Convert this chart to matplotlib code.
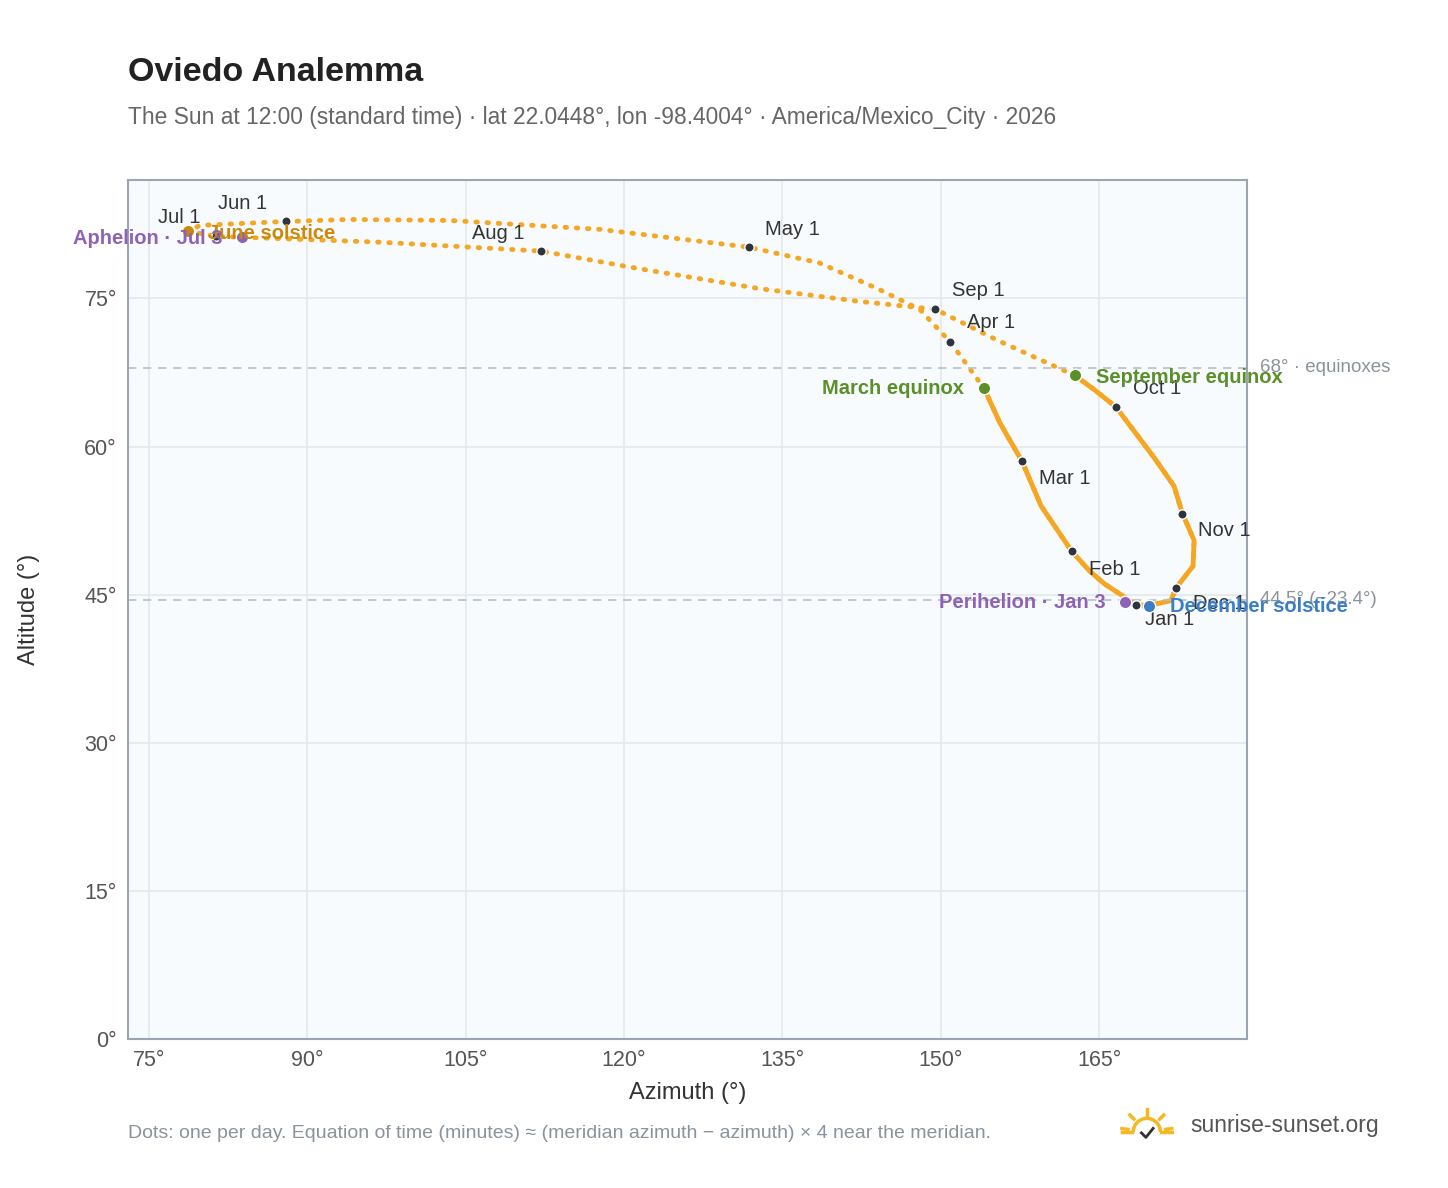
import matplotlib.pyplot as plt
from matplotlib.patches import Arc

plt.rcParams['font.family'] = ['Liberation Sans', 'DejaVu Sans']

# sun path through the year (az, alt), date order
path_az = [168.5, 165.5, 164.1, 162.4, 159.5, 157.7, 155.6, 154.1, 150.9, 148.0,
           144.2, 138.5, 131.8, 117.7, 103.5, 94.0, 88.0, 79.8, 78.7, 81.3,
           83.8, 96.9, 112.1, 121.5, 132.8, 142.3, 149.5, 155.5, 162.7, 164.5,
           166.6, 170.2, 172.1, 172.9, 174.0, 173.9, 172.3, 171.8, 169.7, 168.5]
path_alt = [44.0, 46.1, 47.4, 49.4, 54.0, 58.5, 62.4, 65.9, 70.6, 73.9,
            75.9, 78.6, 80.2, 82.0, 82.9, 83.0, 82.8, 82.4, 81.8, 81.3,
            81.2, 80.7, 79.8, 78.0, 76.0, 74.7, 73.9, 70.7, 67.2, 65.8,
            64.0, 58.9, 56.0, 53.2, 50.5, 47.9, 45.7, 44.4, 43.9, 44.0]
# dense (winter) part runs Sep equinox .. Mar equinox
winter_a = 28
winter_b = 7

months = ["Jan 1", "Feb 1", "Mar 1", "Apr 1", "May 1", "Jun 1",
          "Jul 1", "Aug 1", "Sep 1", "Oct 1", "Nov 1", "Dec 1"]
month_az = [168.5, 162.4, 157.7, 150.9, 131.8, 88.0, 81.3, 112.1, 149.5, 166.6, 172.9, 172.3]
month_alt = [44.0, 49.4, 58.5, 70.6, 80.2, 82.8, 81.3, 79.8, 73.9, 64.0, 53.2, 45.7]
# label offsets in pixels (x right, y down)
month_off = [(9, 15), (17, 18), (17, 17), (17, -19), (16, -18), (-68, -18),
             (-58, -19), (-69, -18), (17, -19), (17, -19), (16, 17), (17, 16)]

events = [("March equinox", 154.1, 65.9, "#5a8f29", (-20, 0), "right"),
          ("September equinox", 162.7, 67.2, "#5a8f29", (21, 2), "left"),
          ("June solstice", 78.7, 81.8, "#c98a0c", (20, 2), "left"),
          ("December solstice", 169.7, 43.9, "#3a7dc9", (21, 1), "left"),
          ("Aphelion · Jul 3", 83.8, 81.2, "#8e63b5", (-20, 1), "right"),
          ("Perihelion · Jan 3", 167.5, 44.3, "#8e63b5", (-20, 1), "right")]

fig = plt.figure(figsize=(14.48, 11.88), dpi=100)
ax = fig.add_axes([0.0884, 0.1254, 0.7727, 0.7231])
ax.set_facecolor("#f8fbfd")
orange = "#f5a623"
px = 0.72  # pixels -> points

ax.plot(path_az, path_alt, color=orange, lw=3.5, linestyle=(0, (0.3, 2.0)),
        dash_capstyle="round")
wa = path_az[winter_a:] + path_az[1:winter_b + 1]
wl = path_alt[winter_a:] + path_alt[1:winter_b + 1]
ax.plot(wa, wl, color=orange, lw=3.5, solid_capstyle="round", solid_joinstyle="round")

ax.axhline(68, color="#b4c0ca", lw=1.2, ls=(0, (5, 4)))
ax.axhline(44.5, color="#b4c0ca", lw=1.2, ls=(0, (5, 4)))
ax.text(180.2, 68, "68° · equinoxes", color="#8a939c", fontsize=13.5, va="center")
ax.text(180.2, 44.5, "44.5° (−23.4°)", color="#8a939c", fontsize=13.5, va="center")

ax.scatter(month_az, month_alt, s=45, color="#2d3440", edgecolor="white", lw=1, zorder=4)
for m, x, y, off in zip(months, month_az, month_alt, month_off):
    ax.annotate(m, (x, y), xytext=(off[0] * px, -off[1] * px), textcoords="offset points",
                fontsize=14.5, color="#333", ha="left", va="center", zorder=5)
for name, x, y, c, off, ha in events:
    ax.scatter([x], [y], s=80, color=c, edgecolor="white", lw=1, zorder=5)
    ax.annotate(name, (x, y), xytext=(off[0] * px, -off[1] * px), textcoords="offset points",
                fontsize=14.5, color=c, fontweight="bold", va="center", ha=ha, zorder=6)

ax.set_xlim(73.0, 179.0)
ax.set_ylim(0, 87)
ax.set_xticks(range(75, 166, 15))
ax.set_xticklabels([f"{v}°" for v in range(75, 166, 15)])
ax.set_yticks(range(0, 76, 15))
ax.set_yticklabels([f"{v}°" for v in range(0, 76, 15)])
ax.grid(color="#e3e8ed", lw=1.2)
ax.set_axisbelow(True)
ax.tick_params(colors="#555", labelsize=15.5, length=0, pad=8)
for s in ax.spines.values():
    s.set_color("#9aa5b1")
    s.set_linewidth(1.5)
ax.set_xlabel("Azimuth (°)", fontsize=17, color="#333", labelpad=8)
ax.set_ylabel("Altitude (°)", fontsize=17, color="#333", labelpad=32)

fig.text(0.0884, 0.939, "Oviedo Analemma", fontsize=24.5, fontweight="bold", color="#222",
         va="center")
fig.text(0.0884, 0.9015, "The Sun at 12:00 (standard time) · lat 22.0448°, lon -98.4004° · "
         "America/Mexico_City · 2026", fontsize=16.4, color="#666", va="center")
fig.text(0.0884, 0.046, "Dots: one per day. Equation of time (minutes) ≈ (meridian azimuth − "
         "azimuth) × 4 near the meridian.", fontsize=14, color="#8a939c", va="center")
fig.text(0.822, 0.053, "sunrise-sunset.org", fontsize=16.5, color="#555", va="center")

# small sun logo
lax = fig.add_axes([0.772, 0.035, 0.04, 0.035])
lax.set_xlim(-1.5, 1.5)
lax.set_ylim(-0.8, 1.5)
lax.set_aspect("equal")
lax.axis("off")
lax.add_patch(Arc((0, 0), 1.5, 1.5, theta1=0, theta2=180, color="#f5b820", lw=2.5))
for dx, dy in [(0, 1.0), (0.75, 0.75), (-0.75, 0.75), (1.1, 0.15), (-1.1, 0.15)]:
    lax.plot([dx * 0.95, dx * 1.25], [dy * 0.95, dy * 1.25], color="#f5b820", lw=2.5)
lax.plot([-1.4, -0.8], [0, 0], color="#f5b820", lw=2.5)
lax.plot([0.8, 1.4], [0, 0], color="#f5b820", lw=2.5)
lax.plot([-0.3, -0.05, 0.35], [-0.05, -0.3, 0.2], color="#333", lw=2)

fig.savefig("out.png", dpi=100)
